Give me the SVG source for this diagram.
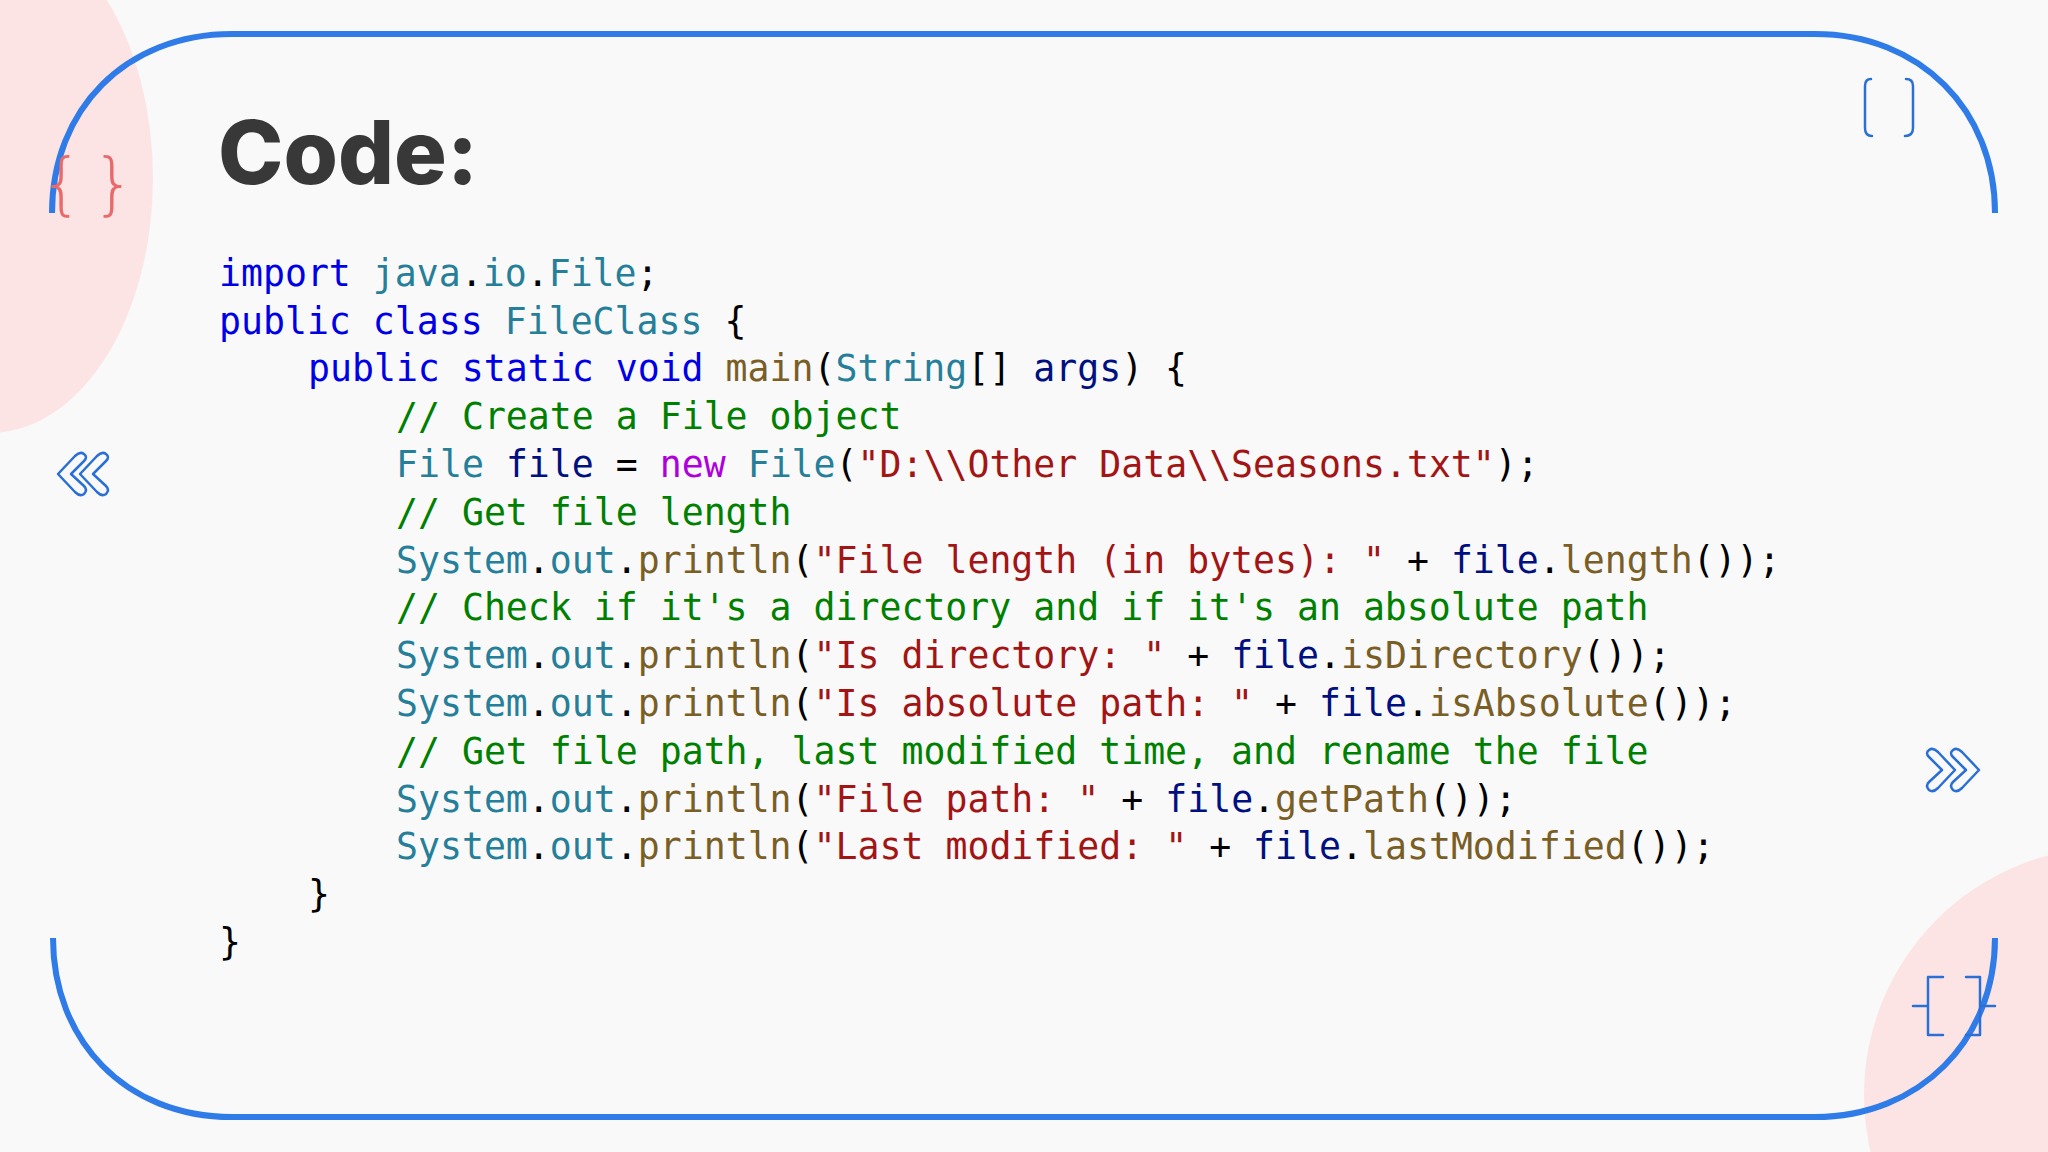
<svg xmlns="http://www.w3.org/2000/svg" width="2048" height="1152" viewBox="0 0 2048 1152">
<style>
.code{font-family:"DejaVu Sans Mono","Liberation Mono",monospace;font-size:36.5px;white-space:pre;fill:#000}
.k{fill:#0000e6}.t{fill:#267f99}.c{fill:#008000}.s{fill:#a31515}.v{fill:#001080}.m{fill:#795e26}.n{fill:#af00db}
.frame{fill:none;stroke:#2f7be8;stroke-width:6}
.deco{fill:none;stroke:#2a6fd6;stroke-width:2.5;stroke-linecap:round;stroke-linejoin:round}
</style>
<rect width="2048" height="1152" fill="#f9f9f9"/>
<g id="background">
<ellipse cx="-10" cy="178" rx="163" ry="255" fill="#fde4e4"/>
<circle cx="2112" cy="1095" r="248" fill="#fde4e4"/>
</g>
<g id="frame">
<path class="frame" d="M52,213 C52,110 125,34 232,34 H1815 C1920,34 1995,110 1995,213"/>
<path class="frame" d="M53,938 C53,1040 125,1117 232,1117 H1815 C1920,1117 1995,1040 1995,938"/>
</g>
<g id="decorations">
<text x="40" y="207" font-family="DejaVu Sans,sans-serif" font-size="68" fill="#e86a6a" font-weight="200" transform="scale(1,1)">{</text>
<text x="92" y="207" font-family="DejaVu Sans,sans-serif" font-size="68" fill="#e86a6a" font-weight="200">}</text>
<path class="deco" d="M1871,79 Q1865,79 1865,86 V128 Q1865,136 1872,136 M1906,79 Q1913,79 1913,86 V128 Q1913,136 1905,136"/>
<path class="deco" stroke-linecap="butt" d="M1943,977 H1928 V1035 H1943 M1966,977 H1980 V1035 H1966 M1913,1006 H1928 M1980,1006 H1995"/>
<path class="deco" d="M75,456 L58,474 L75,492 Q80,497 84,494 Q88,490 84,486 L71,474 L84,461 Q88,457 84,454 Q80,451 75,456 Z M97,456 L80,474 L97,492 Q102,497 106,494 Q110,490 106,486 L93,474 L106,461 Q110,457 106,454 Q102,451 97,456 Z"/>
<path class="deco" d="M1938,752 L1955,770 L1938,788 Q1933,793 1929,790 Q1925,786 1929,782 L1942,770 L1929,757 Q1925,753 1929,750 Q1933,747 1938,752 Z M1962,752 L1979,770 L1962,788 Q1957,793 1953,790 Q1949,786 1953,782 L1966,770 L1953,757 Q1949,753 1953,750 Q1957,747 1962,752 Z"/>
</g>
<g id="title">
<text x="218" y="184" font-family="Inter,'Liberation Sans',sans-serif" font-weight="800" font-size="88" fill="#383838">Code:</text>
</g>
<g id="code" class="code">
<text x="219" y="286"><tspan class="k">import</tspan> <tspan class="t">java</tspan>.<tspan class="t">io</tspan>.<tspan class="t">File</tspan>;</text>
<text x="219" y="334"><tspan class="k">public</tspan> <tspan class="k">class</tspan> <tspan class="t">FileClass</tspan> {</text>
<text x="308" y="381"><tspan class="k">public</tspan> <tspan class="k">static</tspan> <tspan class="k">void</tspan> <tspan class="m">main</tspan>(<tspan class="t">String</tspan>[] <tspan class="v">args</tspan>) {</text>
<text x="396" y="429" class="c">// Create a File object</text>
<text x="396" y="477"><tspan class="t">File</tspan> <tspan class="v">file</tspan> = <tspan class="n">new</tspan> <tspan class="t">File</tspan>(<tspan class="s">"D:\\Other Data\\Seasons.txt"</tspan>);</text>
<text x="396" y="525" class="c">// Get file length</text>
<text x="396" y="573"><tspan class="t">System</tspan>.<tspan class="t">out</tspan>.<tspan class="m">println</tspan>(<tspan class="s">"File length (in bytes): "</tspan> + <tspan class="v">file</tspan>.<tspan class="m">length</tspan>());</text>
<text x="396" y="620" class="c">// Check if it's a directory and if it's an absolute path</text>
<text x="396" y="668"><tspan class="t">System</tspan>.<tspan class="t">out</tspan>.<tspan class="m">println</tspan>(<tspan class="s">"Is directory: "</tspan> + <tspan class="v">file</tspan>.<tspan class="m">isDirectory</tspan>());</text>
<text x="396" y="716"><tspan class="t">System</tspan>.<tspan class="t">out</tspan>.<tspan class="m">println</tspan>(<tspan class="s">"Is absolute path: "</tspan> + <tspan class="v">file</tspan>.<tspan class="m">isAbsolute</tspan>());</text>
<text x="396" y="764" class="c">// Get file path, last modified time, and rename the file</text>
<text x="396" y="812"><tspan class="t">System</tspan>.<tspan class="t">out</tspan>.<tspan class="m">println</tspan>(<tspan class="s">"File path: "</tspan> + <tspan class="v">file</tspan>.<tspan class="m">getPath</tspan>());</text>
<text x="396" y="859"><tspan class="t">System</tspan>.<tspan class="t">out</tspan>.<tspan class="m">println</tspan>(<tspan class="s">"Last modified: "</tspan> + <tspan class="v">file</tspan>.<tspan class="m">lastModified</tspan>());</text>
<text x="308" y="907">}</text>
<text x="219" y="955">}</text>
</g>
</svg>
